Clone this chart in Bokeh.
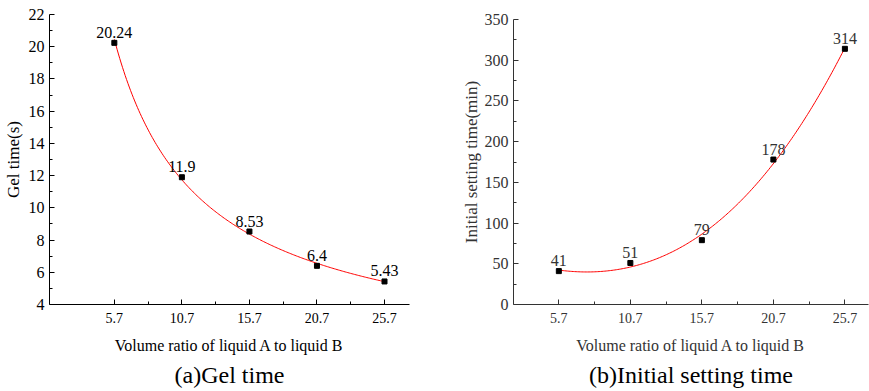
import numpy as np
from bokeh.plotting import figure
from bokeh.layouts import row
from bokeh.models import Range1d, FixedTicker, Title, ColumnDataSource
from bokeh.embed import file_html
from bokeh.resources import INLINE

# ---- data ----
ratio = [5.7, 10.7, 15.7, 20.7, 25.7]
ratio_labels = ["5.7", "10.7", "15.7", "20.7", "25.7"]
gel_time = [20.24, 11.9, 8.53, 6.4, 5.43]
gel_labels = ["20.24", "11.9", "8.53", "6.4", "5.43"]
setting_time = [41, 51, 79, 178, 314]
setting_labels = ["41", "51", "79", "178", "314"]
gel_yticks = [4, 6, 8, 10, 12, 14, 16, 18, 20, 22]
set_yticks = [0, 50, 100, 150, 200, 250, 300, 350]

FONT = "Liberation Serif"

# fitted trend lines (derived from the data above)
xs = np.linspace(ratio[0], ratio[-1], 200)
b, lna = np.polyfit(np.log(ratio), np.log(gel_time), 1)
gel_fit = np.exp(lna) * xs ** b
c3 = np.polyfit(ratio, setting_time, 3)
set_fit = np.polyval(c3, xs)

x_minor = [(a + c) / 2 for a, c in zip(ratio[:-1], ratio[1:])]


def style(p, yticks, yminor, color, ylabel, caption, ytick_size, ylabel_size, ylab_standoff):
    p.outline_line_color = None
    p.xgrid.visible = False
    p.ygrid.visible = False
    p.background_fill_color = "white"
    p.border_fill_color = "white"
    p.xaxis.ticker = FixedTicker(ticks=ratio, minor_ticks=x_minor)
    p.xaxis.major_label_overrides = {r: l for r, l in zip(ratio, ratio_labels)}
    p.yaxis.ticker = FixedTicker(ticks=yticks, minor_ticks=yminor)
    for ax in (p.xaxis[0], p.yaxis[0]):
        ax.axis_line_color = color
        ax.major_tick_line_color = color
        ax.minor_tick_line_color = color
        ax.major_tick_in = 5
        ax.major_tick_out = 0
        ax.minor_tick_in = 3
        ax.minor_tick_out = 0
        ax.major_label_text_font = FONT
        ax.major_label_text_color = color
        ax.axis_label_text_font = FONT
        ax.axis_label_text_font_style = "normal"
        ax.axis_label_text_color = color
    p.xaxis.major_label_text_font_size = "14px"
    p.yaxis.major_label_text_font_size = ytick_size
    p.xaxis.major_label_standoff = 8
    p.yaxis.major_label_standoff = 5
    p.xaxis.axis_label = "Volume ratio of liquid A to liquid B"
    p.xaxis.axis_label_text_font_size = "16px"
    p.xaxis.axis_label_standoff = 11
    p.yaxis.axis_label = ylabel
    p.yaxis.axis_label_text_font_size = ylabel_size
    p.yaxis.axis_label_standoff = ylab_standoff
    t = Title(text=caption, align="center", text_font=FONT, text_font_size="24px",
              text_font_style="normal", text_color="black", standoff=7)
    p.add_layout(t, "below")


# ---- left panel ----
p1 = figure(width=430, height=391, output_backend="svg", toolbar_location=None,
            x_range=Range1d(0.9, 27.55), y_range=Range1d(4, 22), frame_align=False,
            min_border_left=49, min_border_right=21, min_border_top=14, min_border_bottom=86)
style(p1, gel_yticks, [v + 1 for v in gel_yticks[:-1]], "black", "Gel time(s)",
      "(a)Gel time", "16px", "17px", 3)
p1.line(xs, gel_fit, line_color="red", line_width=1)
src1 = ColumnDataSource(dict(x=ratio, y=gel_time, t=gel_labels))
p1.scatter("x", "y", source=src1, marker="square", size=5, color="black")
p1.text("x", "y", text="t", source=src1, text_align="center", text_baseline="bottom",
        y_offset=-5, text_font_size="16px", text_font={"value": FONT}, text_color="black")

# ---- right panel ----
p2 = figure(width=439, height=391, output_backend="svg", toolbar_location=None,
            x_range=Range1d(2.53, 27.35), y_range=Range1d(0, 350), frame_align=False,
            min_border_left=83, min_border_right=1, min_border_top=19, min_border_bottom=84)
style(p2, set_yticks, [v + 25 for v in set_yticks[:-1]], "#333333",
      "Initial setting time(min)", "(b)Initial setting time", "16px", "17px", 1)
p2.line(xs, set_fit, line_color="red", line_width=1)
src2 = ColumnDataSource(dict(x=ratio, y=setting_time, t=setting_labels))
p2.scatter("x", "y", source=src2, marker="square", size=5, color="black")
p2.text("x", "y", text="t", source=src2, text_align="center", text_baseline="bottom",
        y_offset=-5, text_font_size="16px", text_font={"value": FONT}, text_color="#333333")

layout = row(p1, p2, spacing=0)
open("out.html", "w").write(file_html(layout, INLINE))
